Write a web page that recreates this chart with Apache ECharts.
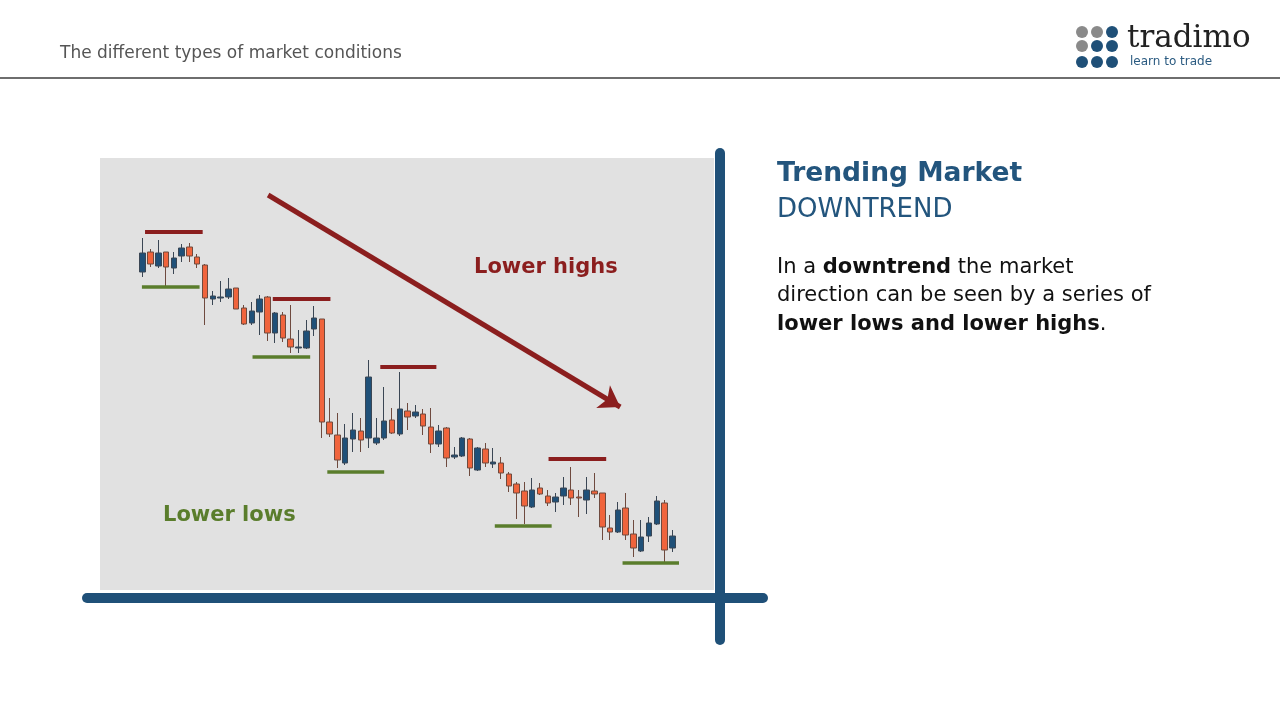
<!DOCTYPE html>
<html>
<head>
<meta charset="utf-8">
<title>Trending Market - Downtrend</title>
<script src="https://cdn.jsdelivr.net/npm/echarts@6/dist/echarts.min.js"></script>
<style>
  html, body { margin: 0; padding: 0; background: #ffffff; }
  #chart { width: 1280px; height: 720px; }
</style>
</head>
<body>
<div id="chart"></div>
<script type="text/javascript">
// candle values (arbitrary price units)
var openVals  = [32.8, 34.8, 33.4, 34.8, 33.2, 34.4, 35.3, 34.3, 33.5, 30.1, 30.2, 30.3, 31.2, 29.2, 27.7, 28.8, 30.3, 26.7, 28.5, 26.1, 25.2, 25.2, 27.1,
                 28.1, 17.8, 16.5, 13.7, 16.1, 16.9, 16.2, 15.7, 16.2, 18.0, 16.6, 18.9, 18.4, 18.6, 17.3, 15.6, 17.2, 14.3, 14.4, 16.1,
                 13.0, 15.1, 13.6, 13.7, 12.6, 11.6, 10.9, 9.3, 11.2, 10.4, 9.8, 10.4, 11.0, 10.3, 10.0, 10.9, 10.7, 7.2, 6.8, 9.2,
                 6.6, 4.9, 6.4, 7.6, 9.7, 5.2];
var closeVals = [34.7, 33.6, 34.7, 33.3, 34.2, 35.2, 34.4, 33.6, 30.2, 30.4, 30.3, 31.1, 29.1, 27.6, 28.9, 30.1, 26.7, 28.7, 26.2, 25.3, 25.3, 26.9, 28.2,
                 17.8, 16.6, 14.0, 16.2, 17.0, 16.0, 22.3, 16.2, 17.9, 16.7, 19.1, 18.3, 18.8, 17.4, 15.6, 16.9, 14.2, 14.5, 16.2, 13.2,
                 15.2, 13.7, 13.8, 12.7, 11.4, 10.7, 9.4, 11.0, 10.6, 9.7, 10.3, 11.2, 10.2, 10.2, 11.0, 10.6, 7.3, 6.8, 9.0, 6.5,
                 5.2, 6.3, 7.7, 9.9, 5.0, 6.4];
var lowVals   = [32.3, 33.3, 33.2, 31.3, 32.6, 33.8, 33.8, 33.2, 27.5, 29.5, 29.8, 30.1, 29.1, 27.5, 27.5, 26.5, 25.9, 25.7, 25.8, 24.7, 24.7, 25.1, 26.4,
                 16.2, 16.3, 13.2, 13.5, 14.8, 14.8, 15.2, 15.5, 16.0, 16.6, 16.4, 17.0, 18.2, 16.5, 14.7, 15.3, 13.3, 14.1, 14.3, 12.4,
                 12.9, 13.3, 13.2, 12.1, 10.8, 8.1, 7.6, 9.2, 10.5, 9.4, 8.8, 9.5, 9.5, 8.3, 8.6, 10.2, 6.0, 6.0, 6.7, 6.0,
                 4.3, 4.8, 5.8, 7.5, 3.8, 4.8];
var highVals  = [36.2, 35.1, 36.0, 34.8, 34.8, 35.6, 35.7, 34.6, 33.6, 30.9, 31.9, 32.2, 31.2, 29.5, 29.8, 30.5, 30.4, 28.8, 28.8, 29.5, 27.0, 28.0, 29.4,
                 28.1, 20.2, 18.7, 17.6, 18.7, 18.2, 24.0, 18.2, 21.3, 19.2, 22.8, 19.7, 19.5, 19.1, 19.2, 17.5, 17.3, 15.3, 16.3, 16.2,
                 15.3, 15.7, 15.2, 14.3, 12.8, 11.8, 11.8, 12.2, 11.7, 11.0, 10.7, 12.3, 13.3, 11.0, 12.3, 12.7, 10.7, 8.5, 9.8, 10.7,
                 8.0, 8.0, 8.3, 10.4, 10.0, 7.0];

// swing levels: [fromCandle, toCandle, price]
var lowerHighs = [[0.3, 7.7, 36.8], [16.7, 24.1, 30.1], [30.5, 37.7, 23.3], [52.1, 59.5, 14.1]];
var lowerLows  = [[-0.1, 7.3, 31.3], [14.1, 21.5, 24.3], [23.7, 31.0, 12.8], [45.2, 52.5, 7.4], [61.6, 68.9, 3.7]];
// trend arrow: [candle, price] start and end
var trendArrow = [[16.1, 40.5], [61.3, 19.3]];

var BLUE = '#1f5078';
var ORANGE = '#f0643c';
var DARKRED = '#8b1e1e';
var GREEN = '#5a7d2c';

var categories = [];
var candleData = [];
for (var i = 0; i < openVals.length; i++) {
  categories.push(String(i + 1));
  candleData.push([openVals[i], closeVals[i], lowVals[i], highVals[i]]);
}

function levelData(levels) {
  return levels.map(function (l) {
    return { coords: [[l[0], l[2]], [l[1], l[2]]] };
  });
}

var myChart = echarts.init(document.getElementById('chart'), null, { renderer: 'canvas' });

var option = {
  backgroundColor: '#ffffff',
  animation: false,
  grid: {
    left: 138.8,
    top: 160,
    width: 537.5,
    height: 430,
    show: false
  },
  xAxis: [
    {
      type: 'category',
      data: categories,
      boundaryGap: true,
      show: false
    },
    {
      type: 'value',
      min: -0.5,
      max: openVals.length - 0.5,
      show: false
    }
  ],
  yAxis: {
    type: 'value',
    min: 1,
    max: 44,
    show: false
  },
  series: [
    {
      name: 'price',
      type: 'candlestick',
      data: candleData,
      barWidth: 6,
      z: 3,
      itemStyle: {
        color: BLUE,
        color0: ORANGE,
        borderColor: '#3a4654',
        borderColor0: '#6e4a3e',
        borderWidth: 1
      }
    },
    {
      // lower highs
      type: 'lines',
      coordinateSystem: 'cartesian2d',
      xAxisIndex: 1,
      z: 4,
      lineStyle: { color: DARKRED, width: 4, opacity: 1 },
      data: levelData(lowerHighs)
    },
    {
      // lower lows
      type: 'lines',
      coordinateSystem: 'cartesian2d',
      xAxisIndex: 1,
      z: 4,
      lineStyle: { color: GREEN, width: 3.5, opacity: 1 },
      data: levelData(lowerLows)
    },
    {
      // trend arrow
      type: 'lines',
      coordinateSystem: 'cartesian2d',
      xAxisIndex: 1,
      z: 4,
      symbol: ['none', 'arrow'],
      symbolSize: [18, 20],
      lineStyle: { color: DARKRED, width: 5, opacity: 1 },
      data: [{ coords: trendArrow }]
    }
  ],
  graphic: [
    // header
    {
      type: 'text', left: 60, top: 45,
      style: { text: 'The different types of market conditions', fill: '#555555', font: '17px "DejaVu Sans"' }
    },
    {
      type: 'rect', left: 0, top: 77, shape: { width: 1280, height: 2 },
      style: { fill: '#6e6e6e' }
    },
    // logo
    { type: 'circle', shape: { cx: 1082, cy: 32, r: 6 }, style: { fill: '#8a8a8a' } },
    { type: 'circle', shape: { cx: 1097, cy: 32, r: 6 }, style: { fill: '#8a8a8a' } },
    { type: 'circle', shape: { cx: 1112, cy: 32, r: 6 }, style: { fill: BLUE } },
    { type: 'circle', shape: { cx: 1082, cy: 46, r: 6 }, style: { fill: '#8a8a8a' } },
    { type: 'circle', shape: { cx: 1097, cy: 46, r: 6 }, style: { fill: BLUE } },
    { type: 'circle', shape: { cx: 1112, cy: 46, r: 6 }, style: { fill: BLUE } },
    { type: 'circle', shape: { cx: 1082, cy: 62, r: 6 }, style: { fill: BLUE } },
    { type: 'circle', shape: { cx: 1097, cy: 62, r: 6 }, style: { fill: BLUE } },
    { type: 'circle', shape: { cx: 1112, cy: 62, r: 6 }, style: { fill: BLUE } },
    {
      type: 'text', left: 1127, top: 23,
      style: { text: 'tradimo', fill: '#222222', font: '31px "DejaVu Serif"' }
    },
    {
      type: 'text', left: 1130, top: 56,
      style: { text: 'learn to trade', fill: '#2a5a80', font: '12px "DejaVu Sans"' }
    },
    // chart panel
    {
      type: 'rect', left: 100, top: 158, z: -10,
      shape: { width: 614, height: 432 },
      style: { fill: '#e1e1e1' }
    },
    {
      type: 'line', z: 10,
      shape: { x1: 87, y1: 598, x2: 763, y2: 598 },
      style: { stroke: BLUE, lineWidth: 10, lineCap: 'round' }
    },
    {
      type: 'line', z: 10,
      shape: { x1: 720, y1: 153, x2: 720, y2: 640 },
      style: { stroke: BLUE, lineWidth: 10, lineCap: 'round' }
    },
    {
      type: 'text', left: 474, top: 257, z: 10,
      style: { text: 'Lower highs', fill: DARKRED, font: 'bold 21px "DejaVu Sans"' }
    },
    {
      type: 'text', left: 163, top: 505, z: 10,
      style: { text: 'Lower lows', fill: GREEN, font: 'bold 21px "DejaVu Sans"' }
    },
    // explanation
    {
      type: 'text', left: 777, top: 161,
      style: { text: 'Trending Market', fill: '#23557d', font: 'bold 26.5px "DejaVu Sans"' }
    },
    {
      type: 'text', left: 777, top: 197,
      style: { text: 'DOWNTREND', fill: '#23557d', font: '26px "DejaVu Sans"' }
    },
    {
      type: 'text', left: 777, top: 253,
      style: {
        text: 'In a {b|downtrend} the market\ndirection can be seen by a series of\n{b|lower lows and lower highs}.',
        fill: '#111111',
        font: '21px "DejaVu Sans"',
        lineHeight: 28.5,
        rich: {
          b: { fontWeight: 'bold', fontSize: 21, fontFamily: 'DejaVu Sans', fill: '#111111', lineHeight: 28.5 }
        }
      }
    }
  ]
};

myChart.setOption(option);
</script>
</body>
</html>
